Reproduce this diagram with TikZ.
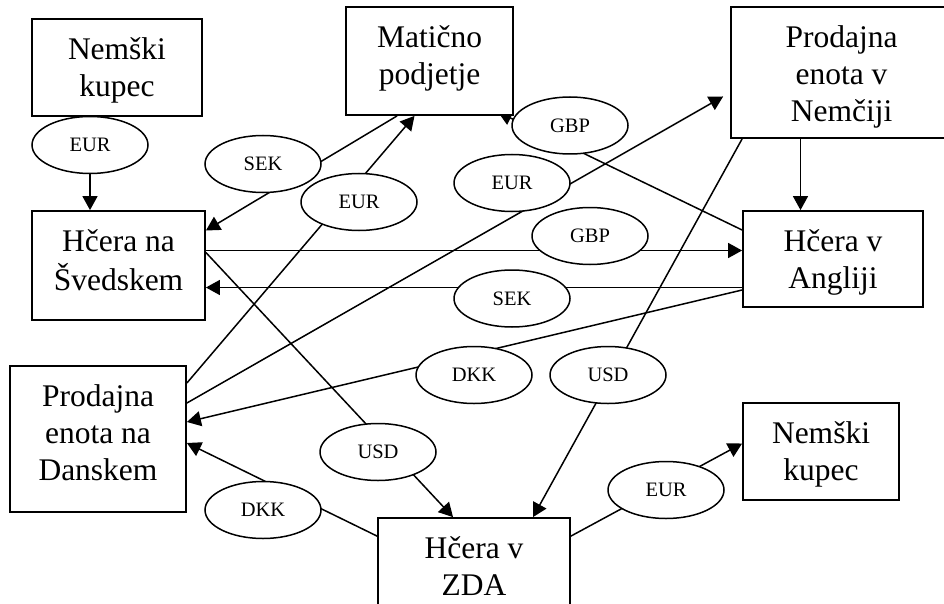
\documentclass[tikz,border=0pt]{standalone}
\usepackage{fontspec}
\setmainfont{Liberation Serif}
\usetikzlibrary{positioning,shapes.geometric,arrows.meta,backgrounds}

\begin{document}
\begin{tikzpicture}[x=1pt, y=-1pt,
  >={Triangle[length=14pt,width=15pt]},
  enota/.style = {draw, line width=1.8pt, fill=white, rectangle, inner sep=0pt},
  napis/.style = {align=center, inner sep=0pt,
    font=\fontsize{31.5}{37}\selectfont},
  valuta/.style = {draw, line width=1.5pt, fill=white, ellipse, inner sep=0pt,
    minimum width=116pt, minimum height=57pt,
    font=\fontsize{20.5}{24}\selectfont},
  tok/.style = {->, line width=1.5pt}]
  \path[use as bounding box, clip] (0,0) rectangle (944,604);

  % podjetja
  \node[enota, minimum width=170pt, minimum height=97pt] (nk1) at (117,67.5) {};
  \node[napis, below=15pt of nk1.north] (nk1-t) {\strut Nemški\\kupec};
  \node[enota, minimum width=167pt, minimum height=108pt] (mat) at (429.5,61) {};
  \node[napis, below=15pt of mat.north] (mat-t) {\strut Matično\\podjetje};
  \node[enota, minimum width=221pt, minimum height=131pt] (pen) at (841.5,72.5) {};
  \node[napis, below=15pt of pen.north] (pen-t) {\strut Prodajna\\enota v\\Nemčiji};
  \node[enota, minimum width=173pt, minimum height=109pt] (sve) at (118.5,265.5) {};
  \node[napis, below=15pt of sve.north] (sve-t) {\strut Hčera na\\Švedskem};
  \node[enota, minimum width=180pt, minimum height=96pt] (ang) at (833,259) {};
  \node[napis, below=15pt of ang.north] (ang-t) {\strut Hčera v\\Angliji};
  \node[enota, minimum width=176pt, minimum height=146pt] (dan) at (98,439) {};
  \node[napis, below=15pt of dan.north] (dan-t) {\strut Prodajna\\enota na\\Danskem};
  \node[enota, minimum width=156pt, minimum height=97pt] (nk2) at (821,451.5) {};
  \node[napis, below=15pt of nk2.north] (nk2-t) {\strut Nemški\\kupec};
  \node[enota, minimum width=192pt, minimum height=104pt] (zda) at (474,570) {};
  \node[napis, below=15pt of zda.north] (zda-t) {\strut Hčera v\\ZDA};

  % valute
  \node[valuta] (eur1) at (90,145) {EUR};
  \node[valuta] (sek1) at (263,164) {SEK};
  \node[valuta] (eur2) at (359,202) {EUR};
  \node[valuta] (gbp1) at (570,125.5) {GBP};
  \node[valuta] (eur3) at (512,183) {EUR};
  \node[valuta] (gbp2) at (590,236) {GBP};
  \node[valuta] (sek2) at (512,298.5) {SEK};
  \node[valuta] (dkk1) at (474,375) {DKK};
  \node[valuta] (usd1) at (608,375) {USD};
  \node[valuta] (usd2) at (378,452) {USD};
  \node[valuta] (eur4) at (666,490) {EUR};
  \node[valuta] (dkk2) at (263,510) {DKK};

  % tokovi
  \begin{scope}[on background layer]
    \draw[tok] (eur1) -- (eur1 |- sve.north);
    \draw[tok] ([xshift=52pt]mat.south west) -- ([yshift=35pt]sve.east);
    \draw[tok] ([yshift=56pt]dan.east) -- ([xshift=-15pt]mat.south);
    \draw[tok, shorten >=8pt] ([yshift=36pt]dan.east) -- ([yshift=-20pt]pen.west);
    \draw[tok] ([yshift=29pt]ang.west) -- ([xshift=-16pt,yshift=4pt]mat.south east);
    \draw[tok] ([xshift=-41pt]pen.south) -- ([xshift=-41pt]pen.south |- ang.north);
    \draw[tok] ([yshift=15pt]sve.east) -- ([yshift=15pt]sve.east -| ang.west);
    \draw[tok, <-] ([yshift=-22pt]sve.east) -- ([yshift=-22pt]sve.east -| ang.west);
    \draw[tok] ([yshift=-31pt]ang.west) -- ([yshift=17pt]dan.east);
    \draw[tok] ([yshift=13pt]sve.east) -- ([xshift=-21pt]zda.north);
    \draw[tok] ([xshift=12pt]pen.south west) -- ([xshift=59pt]zda.north);
    \draw[tok] ([yshift=-19pt]zda.north west) -- ([yshift=-4pt]dan.east);
    \draw[tok] ([yshift=-19pt]zda.north east) -- ([yshift=8pt]nk2.west);
  \end{scope}
\end{tikzpicture}
\end{document}
